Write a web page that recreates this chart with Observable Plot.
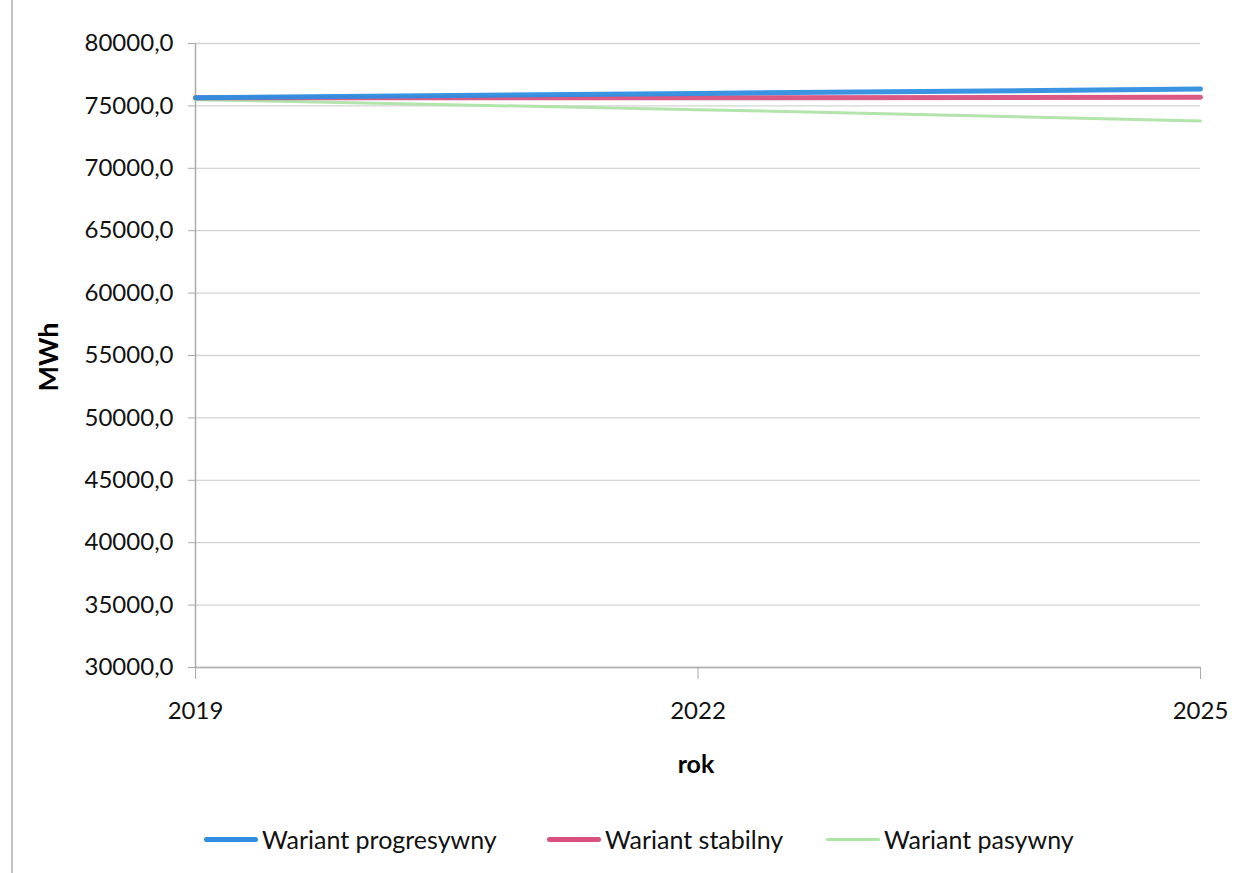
<!DOCTYPE html>
<html>
<head>
<meta charset="utf-8">
<script src="https://cdn.jsdelivr.net/npm/d3@7"></script>
<script src="https://cdn.jsdelivr.net/npm/@observablehq/plot@0.6"></script>
<style>
  body { margin: 0; background: #fff; font-family: Lato, "Open Sans", sans-serif; }
  #wrap { position: relative; width: 1247px; height: 873px; overflow: hidden; }
  #border { position: absolute; left: 11px; top: 0; width: 2px; height: 873px; background: #c4c4c4; }
  #chart { position: absolute; left: 0; top: 0; }
  .axtitle { position: absolute; font-weight: bold; color: #000; white-space: nowrap; }
  #legend { position: absolute; top: 823px; left: 0; width: 1247px; height: 32px; font-size: 25px; color: #111; }
  .item { position: absolute; display: flex; align-items: center; height: 32px; }
  .sw { display: inline-block; width: 54px; border-radius: 3px; margin-right: 4px; }
</style>
</head>
<body>
<div id="wrap">
  <div id="border"></div>
  <div id="chart"></div>
  <div class="axtitle" style="left:696px; top:763px; font-size:25px; transform: translate(-50%,-50%);">rok</div>
  <div class="axtitle" style="left:47px; top:357px; font-size:27px; transform: translate(-50%,-50%) rotate(-90deg);">MWh</div>
  <div id="legend"></div>
</div>
<script>
const years = [2019, 2022, 2025];
const seriesNames = ["Wariant progresywny", "Wariant stabilny", "Wariant pasywny"];
const progresywny = [75650, 76000, 76350];
const stabilny = [75650, 75650, 75700];
const pasywny = [75500, 74700, 73800];
const yTicks = [30000, 35000, 40000, 45000, 50000, 55000, 60000, 65000, 70000, 75000, 80000];
const colors = ["#2f8ee0", "#d9507e", "#aee3a6"];
const widths = [5, 5, 3];

const seriesValues = [progresywny, stabilny, pasywny];
const data = [];
seriesNames.forEach((name, i) => {
  years.forEach((yr, j) => data.push({series: name, year: yr, value: seriesValues[i][j]}));
});

const plot = Plot.plot({
  width: 1247,
  height: 735,
  marginLeft: 195,
  marginRight: 47,
  marginTop: 43,
  marginBottom: 68,
  style: { fontFamily: "Lato, 'Open Sans', sans-serif", fontSize: "24px", color: "#111", background: "transparent" },
  x: { domain: [2019, 2025] },
  y: { domain: [30000, 80000] },
  marks: [
    Plot.ruleY(yTicks, { stroke: "#d4d4d4", strokeWidth: 1.3 }),
    Plot.ruleX([2019], { y1: 30000, y2: 80000, stroke: "#aaaaaa", strokeWidth: 1.5 }),
    Plot.ruleY([30000], { stroke: "#b0b0b0", strokeWidth: 1.5 }),
    Plot.axisY({ ticks: yTicks, tickSize: 7, tickPadding: 15, tickFormat: d => d3.format("d")(d) + ",0", label: null, stroke: "#aaa" }),
    Plot.axisX({ ticks: years, tickSize: 12, tickPadding: 22, tickFormat: d => String(d), label: null, stroke: "#aaa" }),
    ...seriesNames.map((name, i) =>
      Plot.line(data.filter(d => d.series === name), { x: "year", y: "value", stroke: colors[i], strokeWidth: widths[i], strokeOpacity: 0.95 })
    ).reverse()
  ]
});
document.getElementById("chart").appendChild(plot);

const legend = document.getElementById("legend");
const lefts = [204, 547, 826];
seriesNames.forEach((name, i) => {
  const it = document.createElement("div");
  it.className = "item";
  it.style.left = lefts[i] + "px";
  const sw = document.createElement("span");
  sw.className = "sw";
  sw.style.height = widths[i] + "px";
  sw.style.background = colors[i];
  it.appendChild(sw);
  const t = document.createElement("span");
  t.textContent = name;
  it.appendChild(t);
  legend.appendChild(it);
});
</script>
</body>
</html>
